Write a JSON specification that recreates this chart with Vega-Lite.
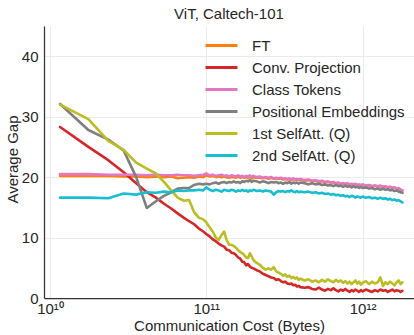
{
  "$schema": "https://vega.github.io/schema/vega-lite/v6.json",
  "width": 370,
  "height": 272,
  "autosize": {"type": "none"},
  "padding": {"left": 44, "top": 26, "right": 0, "bottom": 37},
  "background": "white",
  "title": {"text": "ViT, Caltech-101", "fontSize": 15, "fontWeight": "normal", "font": "Liberation Sans", "color": "#262626", "anchor": "middle", "frame": "group", "baseline": "bottom", "offset": 5, "dy": 16},
  "config": {
    "view": {"stroke": null},
    "font": "Liberation Sans"
  },
  "data": {"values": [
    {"x": 1.16e10, "ft": 20.2, "conv": 28.3, "cls": 20.5, "pos": 32.1, "sa1": 32.0, "sa2": 16.6},
    {"x": 1.76e10, "ft": 20.2, "conv": 25.0, "cls": 20.5, "pos": 27.8, "sa1": 29.6, "sa2": 16.6},
    {"x": 2.36e10, "ft": 20.2, "conv": 22.8, "cls": 20.4, "pos": 26.2, "sa1": 26.0, "sa2": 16.5},
    {"x": 2.96e10, "ft": 20.1, "conv": 20.8, "cls": 20.4, "pos": 24.4, "sa1": 24.5, "sa2": 17.3},
    {"x": 3.56e10, "ft": 20.1, "conv": 19.0, "cls": 20.4, "pos": 20.0, "sa1": 22.4, "sa2": 17.1},
    {"x": 4.16e10, "ft": 20.0, "conv": 17.5, "cls": 20.3, "pos": 14.9, "sa1": 21.4, "sa2": 17.5},
    {"x": 4.76e10, "ft": 20.1, "conv": 16.6, "cls": 20.4, "pos": 16.0, "sa1": 20.6, "sa2": 17.4},
    {"x": 5.36e10, "ft": 20.0, "conv": 15.6, "cls": 20.3, "pos": 16.9, "sa1": 19.2, "sa2": 17.6},
    {"x": 5.96e10, "ft": 20.1, "conv": 14.8, "cls": 20.3, "pos": 17.5, "sa1": 17.8, "sa2": 17.5},
    {"x": 6.56e10, "ft": 19.8, "conv": 14.0, "cls": 20.4, "pos": 18.1, "sa1": 16.6, "sa2": 17.8},
    {"x": 7.16e10, "ft": 19.9, "conv": 13.3, "cls": 20.3, "pos": 18.2, "sa1": 16.1, "sa2": 17.7},
    {"x": 7.76e10, "ft": 20.0, "conv": 12.7, "cls": 20.3, "pos": 18.2, "sa1": 16.2, "sa2": 17.8},
    {"x": 8.36e10, "ft": 19.9, "conv": 12.2, "cls": 20.2, "pos": 18.7, "sa1": 14.2, "sa2": 17.8},
    {"x": 8.96e10, "ft": 20.1, "conv": 11.5, "cls": 20.3, "pos": 18.9, "sa1": 13.3, "sa2": 17.9},
    {"x": 9.56e10, "ft": 20.0, "conv": 11.0, "cls": 20.4, "pos": 18.8, "sa1": 13.0, "sa2": 17.8},
    {"x": 1.0e11, "ft": 20.3, "conv": 10.6, "cls": 20.6, "pos": 18.9, "sa1": 12.5, "sa2": 18.3},
    {"x": 1.05e11, "ft": 20.1, "conv": 10.2, "cls": 20.3, "pos": 18.8, "sa1": 11.7, "sa2": 17.9},
    {"x": 1.1e11, "ft": 20.2, "conv": 9.7, "cls": 20.4, "pos": 19.0, "sa1": 11.0, "sa2": 17.7},
    {"x": 1.15e11, "ft": 20.0, "conv": 9.4, "cls": 20.2, "pos": 19.1, "sa1": 10.0, "sa2": 17.9},
    {"x": 1.2e11, "ft": 20.1, "conv": 9.0, "cls": 20.3, "pos": 18.9, "sa1": 9.6, "sa2": 17.8},
    {"x": 1.25e11, "ft": 20.0, "conv": 8.7, "cls": 20.4, "pos": 19.1, "sa1": 10.4, "sa2": 17.6},
    {"x": 1.3e11, "ft": 20.1, "conv": 8.5, "cls": 20.2, "pos": 19.2, "sa1": 11.0, "sa2": 17.9},
    {"x": 1.35e11, "ft": 20.0, "conv": 8.0, "cls": 20.3, "pos": 19.0, "sa1": 9.6, "sa2": 17.8},
    {"x": 1.4e11, "ft": 19.9, "conv": 7.9, "cls": 20.1, "pos": 19.2, "sa1": 8.8, "sa2": 17.7},
    {"x": 1.45e11, "ft": 20.0, "conv": 7.5, "cls": 20.3, "pos": 19.1, "sa1": 8.8, "sa2": 17.9},
    {"x": 1.5e11, "ft": 20.0, "conv": 7.4, "cls": 20.2, "pos": 19.3, "sa1": 8.6, "sa2": 17.8},
    {"x": 1.55e11, "ft": 19.9, "conv": 7.1, "cls": 20.1, "pos": 19.1, "sa1": 8.3, "sa2": 17.6},
    {"x": 1.6e11, "ft": 20.1, "conv": 6.7, "cls": 20.3, "pos": 19.2, "sa1": 7.9, "sa2": 17.8},
    {"x": 1.65e11, "ft": 19.9, "conv": 6.5, "cls": 20.1, "pos": 19.0, "sa1": 7.6, "sa2": 17.7},
    {"x": 1.7e11, "ft": 20.0, "conv": 6.0, "cls": 20.2, "pos": 19.3, "sa1": 7.4, "sa2": 17.9},
    {"x": 1.75e11, "ft": 19.9, "conv": 5.9, "cls": 20.0, "pos": 19.2, "sa1": 7.1, "sa2": 17.7},
    {"x": 1.8e11, "ft": 20.0, "conv": 5.4, "cls": 20.2, "pos": 19.4, "sa1": 6.7, "sa2": 17.8},
    {"x": 1.85e11, "ft": 19.9, "conv": 5.6, "cls": 20.1, "pos": 19.3, "sa1": 6.6, "sa2": 17.6},
    {"x": 1.9e11, "ft": 20.1, "conv": 5.2, "cls": 20.3, "pos": 19.5, "sa1": 7.4, "sa2": 17.8},
    {"x": 1.95e11, "ft": 19.8, "conv": 5.0, "cls": 20.0, "pos": 19.2, "sa1": 6.9, "sa2": 17.7},
    {"x": 2.0e11, "ft": 20.0, "conv": 4.9, "cls": 20.2, "pos": 19.4, "sa1": 6.3, "sa2": 17.9},
    {"x": 2.1e11, "ft": 19.9, "conv": 4.6, "cls": 20.0, "pos": 19.3, "sa1": 5.8, "sa2": 17.7},
    {"x": 2.2e11, "ft": 19.9, "conv": 4.4, "cls": 20.1, "pos": 19.1, "sa1": 5.5, "sa2": 17.8},
    {"x": 2.3e11, "ft": 19.8, "conv": 4.0, "cls": 19.9, "pos": 19.3, "sa1": 5.0, "sa2": 17.6},
    {"x": 2.4e11, "ft": 19.9, "conv": 3.8, "cls": 20.0, "pos": 19.2, "sa1": 4.7, "sa2": 17.8},
    {"x": 2.5e11, "ft": 19.7, "conv": 3.6, "cls": 19.9, "pos": 19.0, "sa1": 4.9, "sa2": 17.7},
    {"x": 2.6e11, "ft": 19.9, "conv": 3.4, "cls": 20.0, "pos": 19.2, "sa1": 4.7, "sa2": 17.6},
    {"x": 2.7e11, "ft": 19.7, "conv": 3.3, "cls": 19.8, "pos": 19.1, "sa1": 5.1, "sa2": 17.1},
    {"x": 2.8e11, "ft": 19.8, "conv": 3.0, "cls": 19.9, "pos": 19.2, "sa1": 4.4, "sa2": 17.5},
    {"x": 2.9e11, "ft": 19.7, "conv": 3.1, "cls": 19.8, "pos": 19.0, "sa1": 4.2, "sa2": 17.7},
    {"x": 3.0e11, "ft": 19.8, "conv": 2.8, "cls": 19.9, "pos": 19.1, "sa1": 4.0, "sa2": 17.6},
    {"x": 3.1e11, "ft": 19.6, "conv": 2.6, "cls": 19.7, "pos": 18.9, "sa1": 3.7, "sa2": 17.7},
    {"x": 3.2e11, "ft": 19.7, "conv": 2.7, "cls": 19.8, "pos": 19.1, "sa1": 3.9, "sa2": 17.5},
    {"x": 3.3e11, "ft": 19.6, "conv": 2.4, "cls": 19.7, "pos": 19.0, "sa1": 3.5, "sa2": 17.7},
    {"x": 3.4e11, "ft": 19.7, "conv": 2.3, "cls": 19.8, "pos": 19.2, "sa1": 3.7, "sa2": 17.6},
    {"x": 3.5e11, "ft": 19.5, "conv": 2.4, "cls": 19.6, "pos": 18.9, "sa1": 3.3, "sa2": 17.8},
    {"x": 3.6e11, "ft": 19.7, "conv": 2.1, "cls": 19.8, "pos": 19.1, "sa1": 3.5, "sa2": 17.6},
    {"x": 3.7e11, "ft": 19.5, "conv": 2.2, "cls": 19.6, "pos": 19.0, "sa1": 3.2, "sa2": 17.5},
    {"x": 3.8e11, "ft": 19.6, "conv": 1.9, "cls": 19.7, "pos": 19.1, "sa1": 3.4, "sa2": 17.7},
    {"x": 3.9e11, "ft": 19.5, "conv": 2.0, "cls": 19.6, "pos": 18.9, "sa1": 3.0, "sa2": 17.5},
    {"x": 4.0e11, "ft": 19.6, "conv": 1.8, "cls": 19.7, "pos": 19.1, "sa1": 3.2, "sa2": 17.6},
    {"x": 4.25e11, "ft": 19.4, "conv": 1.7, "cls": 19.5, "pos": 19.0, "sa1": 2.9, "sa2": 17.5},
    {"x": 4.5e11, "ft": 19.5, "conv": 1.8, "cls": 19.6, "pos": 18.8, "sa1": 3.1, "sa2": 17.6},
    {"x": 4.75e11, "ft": 19.3, "conv": 1.5, "cls": 19.4, "pos": 19.0, "sa1": 2.7, "sa2": 17.4},
    {"x": 5.0e11, "ft": 19.4, "conv": 1.4, "cls": 19.5, "pos": 18.8, "sa1": 2.9, "sa2": 17.5},
    {"x": 5.25e11, "ft": 19.2, "conv": 1.7, "cls": 19.3, "pos": 18.9, "sa1": 2.6, "sa2": 17.3},
    {"x": 5.5e11, "ft": 19.3, "conv": 1.4, "cls": 19.4, "pos": 18.7, "sa1": 3.0, "sa2": 17.4},
    {"x": 5.75e11, "ft": 19.1, "conv": 1.2, "cls": 19.2, "pos": 18.8, "sa1": 2.7, "sa2": 17.2},
    {"x": 6.0e11, "ft": 19.2, "conv": 1.5, "cls": 19.3, "pos": 18.6, "sa1": 3.1, "sa2": 17.3},
    {"x": 6.25e11, "ft": 19.1, "conv": 1.3, "cls": 19.1, "pos": 18.7, "sa1": 2.8, "sa2": 17.1},
    {"x": 6.5e11, "ft": 19.1, "conv": 1.6, "cls": 19.2, "pos": 18.5, "sa1": 2.6, "sa2": 17.2},
    {"x": 6.75e11, "ft": 18.9, "conv": 1.3, "cls": 19.0, "pos": 18.7, "sa1": 3.0, "sa2": 17.0},
    {"x": 7.0e11, "ft": 19.0, "conv": 1.1, "cls": 19.1, "pos": 18.5, "sa1": 2.7, "sa2": 17.1},
    {"x": 7.25e11, "ft": 18.9, "conv": 1.4, "cls": 18.9, "pos": 18.6, "sa1": 2.9, "sa2": 16.9},
    {"x": 7.5e11, "ft": 18.9, "conv": 1.2, "cls": 19.0, "pos": 18.4, "sa1": 2.5, "sa2": 17.0},
    {"x": 7.75e11, "ft": 18.8, "conv": 1.5, "cls": 18.9, "pos": 18.6, "sa1": 2.8, "sa2": 16.8},
    {"x": 8.0e11, "ft": 18.9, "conv": 1.2, "cls": 19.0, "pos": 18.4, "sa1": 2.4, "sa2": 16.9},
    {"x": 8.25e11, "ft": 18.7, "conv": 1.0, "cls": 18.8, "pos": 18.5, "sa1": 2.7, "sa2": 16.7},
    {"x": 8.5e11, "ft": 18.8, "conv": 1.3, "cls": 18.9, "pos": 18.3, "sa1": 2.3, "sa2": 16.9},
    {"x": 8.75e11, "ft": 18.7, "conv": 1.1, "cls": 18.8, "pos": 18.5, "sa1": 2.6, "sa2": 16.8},
    {"x": 9.0e11, "ft": 18.8, "conv": 1.4, "cls": 18.9, "pos": 18.3, "sa1": 2.9, "sa2": 16.6},
    {"x": 9.25e11, "ft": 18.7, "conv": 1.2, "cls": 18.7, "pos": 18.4, "sa1": 2.4, "sa2": 16.8},
    {"x": 9.5e11, "ft": 18.7, "conv": 1.0, "cls": 18.8, "pos": 18.2, "sa1": 2.7, "sa2": 16.7},
    {"x": 9.75e11, "ft": 18.6, "conv": 1.3, "cls": 18.7, "pos": 18.4, "sa1": 2.2, "sa2": 16.6},
    {"x": 1.0e12, "ft": 18.7, "conv": 1.1, "cls": 18.8, "pos": 18.2, "sa1": 2.5, "sa2": 16.8},
    {"x": 1.05e12, "ft": 18.6, "conv": 1.4, "cls": 18.6, "pos": 18.3, "sa1": 2.8, "sa2": 16.6},
    {"x": 1.1e12, "ft": 18.6, "conv": 1.2, "cls": 18.7, "pos": 18.1, "sa1": 2.3, "sa2": 16.7},
    {"x": 1.15e12, "ft": 18.5, "conv": 1.0, "cls": 18.5, "pos": 18.2, "sa1": 2.7, "sa2": 16.5},
    {"x": 1.2e12, "ft": 18.6, "conv": 1.3, "cls": 18.6, "pos": 18.0, "sa1": 2.4, "sa2": 16.6},
    {"x": 1.25e12, "ft": 18.4, "conv": 1.1, "cls": 18.5, "pos": 18.1, "sa1": 2.6, "sa2": 16.4},
    {"x": 1.3e12, "ft": 18.5, "conv": 1.4, "cls": 18.6, "pos": 17.9, "sa1": 3.4, "sa2": 16.6},
    {"x": 1.35e12, "ft": 18.4, "conv": 1.2, "cls": 18.4, "pos": 18.1, "sa1": 2.0, "sa2": 16.4},
    {"x": 1.4e12, "ft": 18.4, "conv": 1.3, "cls": 18.5, "pos": 17.9, "sa1": 2.6, "sa2": 16.5},
    {"x": 1.45e12, "ft": 18.3, "conv": 1.0, "cls": 18.3, "pos": 18.0, "sa1": 2.3, "sa2": 16.3},
    {"x": 1.5e12, "ft": 18.4, "conv": 1.2, "cls": 18.4, "pos": 17.8, "sa1": 2.7, "sa2": 16.4},
    {"x": 1.55e12, "ft": 18.2, "conv": 1.4, "cls": 18.2, "pos": 17.9, "sa1": 2.4, "sa2": 16.2},
    {"x": 1.6e12, "ft": 18.3, "conv": 1.1, "cls": 18.3, "pos": 17.7, "sa1": 2.1, "sa2": 16.3},
    {"x": 1.65e12, "ft": 18.1, "conv": 1.3, "cls": 18.1, "pos": 17.8, "sa1": 2.6, "sa2": 16.1},
    {"x": 1.7e12, "ft": 18.1, "conv": 1.2, "cls": 18.2, "pos": 17.6, "sa1": 2.9, "sa2": 16.2},
    {"x": 1.75e12, "ft": 17.9, "conv": 1.0, "cls": 17.9, "pos": 17.5, "sa1": 2.3, "sa2": 16.0},
    {"x": 1.8e12, "ft": 17.8, "conv": 1.2, "cls": 17.8, "pos": 17.4, "sa1": 2.6, "sa2": 15.8}
  ]},
  "transform": [
    {"fold": ["ft", "conv", "cls", "pos", "sa1", "sa2"], "as": ["series", "gap"]}
  ],
  "mark": {"type": "line", "strokeWidth": 2.6, "strokeJoin": "round", "strokeCap": "round", "clip": true},
  "encoding": {
    "x": {
      "field": "x", "type": "quantitative",
      "scale": {"type": "log", "domain": [9.155e9, 2.133e12], "nice": false},
      "axis": {
        "title": "Communication Cost (Bytes)",
        "values": [1e10, 1e11, 1e12],
        "labelExpr": "datum.value < 5e10 ? '10¹⁰' : datum.value < 5e11 ? '10¹¹' : '10¹²'",
        "labelFontSize": 15, "labelColor": "#262626", "labelFont": "Liberation Sans",
        "titleFontSize": 15, "titleColor": "#262626", "titleFontWeight": "normal", "titleFont": "Liberation Sans",
        "titlePadding": 2,
        "ticks": false, "tickSize": 0, "labelPadding": 3,
        "domainColor": "#333333", "domainWidth": 1.25,
        "grid": true, "gridColor": "#ebebeb", "gridWidth": 1,
        "labelFlush": false
      }
    },
    "y": {
      "field": "gap", "type": "quantitative",
      "scale": {"domain": [0, 45], "nice": false, "zero": true},
      "axis": {
        "title": "Average Gap",
        "values": [0, 10, 20, 30, 40],
        "labelFontSize": 15, "labelColor": "#262626", "labelFont": "Liberation Sans",
        "titleFontSize": 15, "titleColor": "#262626", "titleFontWeight": "normal", "titleFont": "Liberation Sans",
        "ticks": false, "tickSize": 0, "labelPadding": 6,
        "titleX": -27, "titleY": 133, "titleBaseline": "alphabetic",
        "domainColor": "#333333", "domainWidth": 1.25,
        "grid": true, "gridColor": "#ebebeb", "gridWidth": 1
      }
    },
    "color": {
      "field": "series", "type": "nominal",
      "scale": {
        "domain": ["ft", "conv", "cls", "pos", "sa1", "sa2"],
        "range": ["#ff7f0e", "#d62728", "#e377c2", "#7f7f7f", "#bcbd22", "#17becf"]
      },
      "legend": {
        "title": null,
        "orient": "none",
        "legendX": 170,
        "legendY": 12,
        "padding": 0,
        "symbolType": "M-3.2,0H3.2",
        "symbolSize": 100,
        "symbolStrokeWidth": 3,
        "labelFontSize": 15,
        "labelFont": "Liberation Sans",
        "labelColor": "#262626",
        "labelOffset": 23,
        "rowPadding": 6,
        "labelExpr": "datum.label == 'ft' ? 'FT' : datum.label == 'conv' ? 'Conv. Projection' : datum.label == 'cls' ? 'Class Tokens' : datum.label == 'pos' ? 'Positional Embeddings' : datum.label == 'sa1' ? '1st SelfAtt. (Q)' : '2nd SelfAtt. (Q)'"
      }
    }
  }
}
